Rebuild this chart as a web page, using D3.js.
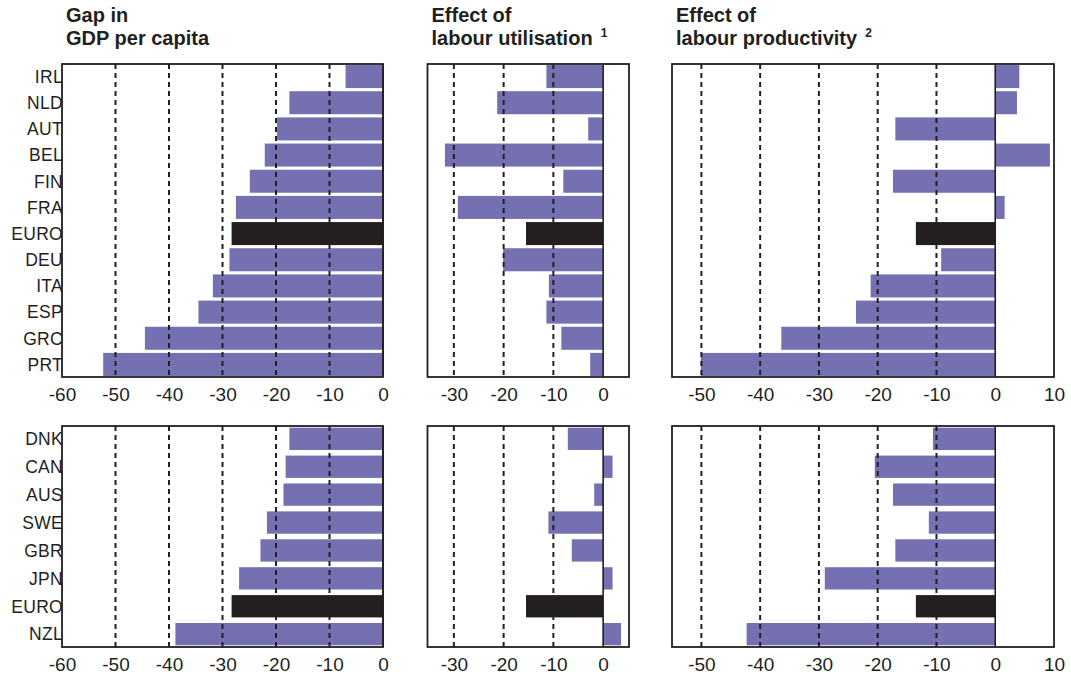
<!DOCTYPE html>
<html>
<head>
<meta charset="utf-8">
<script src="https://cdn.jsdelivr.net/npm/d3@7"></script>
<style>
  html, body { margin: 0; padding: 0; background: #fff; }
  svg { display: block; }
  text { font-family: "Liberation Sans", Arial, Helvetica, sans-serif; fill: #231f20; }
</style>
</head>
<body>
<svg id="chart" width="1071" height="680"></svg>
<script>
// Country groups
const euroCountries = ["IRL", "NLD", "AUT", "BEL", "FIN", "FRA", "EURO", "DEU", "ITA", "ESP", "GRC", "PRT"];
const otherCountries = ["DNK", "CAN", "AUS", "SWE", "GBR", "JPN", "EURO", "NZL"];

// Gap in GDP per capita (per cent)
const gapEuro  = [-7.0, -17.5, -19.8, -22.1, -24.9, -27.5, -28.3, -28.7, -31.8, -34.5, -44.5, -52.3];
const gapOther = [-17.5, -18.2, -18.6, -21.7, -22.9, -26.9, -28.3, -38.8];

// Effect of labour utilisation
const utilEuro  = [-11.4, -21.3, -3.0, -31.8, -8.0, -29.2, -15.5, -20.1, -10.9, -11.4, -8.4, -2.6];
const utilOther = [-7.1, 1.9, -1.8, -11.0, -6.3, 1.9, -15.5, 3.6];

// Effect of labour productivity
const prodEuro  = [4.1, 3.7, -17.0, 9.3, -17.4, 1.6, -13.5, -9.2, -21.2, -23.7, -36.4, -50.1];
const prodOther = [-10.6, -20.5, -17.4, -11.3, -17.0, -29.0, -13.5, -42.3];

// Axis tick labels for each column
const gapTicks  = [-60, -50, -40, -30, -20, -10, 0];
const utilTicks = [-30, -20, -10, 0];
const prodTicks = [-50, -40, -30, -20, -10, 0, 10];

const BAR = "#7470b2";
const HIGHLIGHT = "#231f20";

const svg = d3.select("#chart");

// Column geometry
const columns = [
  { x0: 62,    x1: 383,  domain: [-60, 0],     ticks: gapTicks,  top: gapEuro,  bottom: gapOther,
    title: ["Gap in", "GDP per capita"], note: null, labels: true },
  { x0: 427.5, x1: 629,  domain: [-35.3, 5.2], ticks: utilTicks, top: utilEuro, bottom: utilOther,
    title: ["Effect of", "labour utilisation"], note: "1", labels: false },
  { x0: 672,   x1: 1054, domain: [-55, 10],    ticks: prodTicks, top: prodEuro, bottom: prodOther,
    title: ["Effect of", "labour productivity"], note: "2", labels: false }
];

// Row geometry
const rows = [
  { y0: 64,  y1: 377, cats: euroCountries,  key: "top",    padIn: 0.12, padOut: 0.04 },
  { y0: 426, y1: 647, cats: otherCountries, key: "bottom", padIn: 0.2,  padOut: 0.06 }
];

columns.forEach(col => {
  const x = d3.scaleLinear().domain(col.domain).range([col.x0, col.x1]);

  // Titles
  const t = svg.append("text")
    .attr("x", col.x0 + 4)
    .attr("font-weight", "bold")
    .attr("font-size", 20);
  t.append("tspan").attr("x", col.x0 + 4).attr("y", 22).text(col.title[0]);
  const l2 = t.append("tspan").attr("x", col.x0 + 4).attr("y", 45).text(col.title[1]);
  if (col.note) {
    const w = l2.node().getComputedTextLength();
    svg.append("text")
      .attr("x", col.x0 + 4 + w + 8)
      .attr("y", 37)
      .attr("font-size", 12)
      .attr("font-weight", "bold")
      .text(col.note);
  }

  rows.forEach(row => {
    const values = col[row.key];
    const y = d3.scaleBand()
      .domain(row.cats)
      .range([row.y0, row.y1])
      .paddingInner(row.padIn)
      .paddingOuter(row.padOut);

    const g = svg.append("g");

    // Bars
    g.selectAll("rect.bar")
      .data(row.cats.map((c, i) => ({ c, v: values[i] })))
      .join("rect")
      .attr("class", "bar")
      .attr("x", d => x(Math.min(0, d.v)))
      .attr("width", d => Math.abs(x(d.v) - x(0)))
      .attr("y", d => y(d.c))
      .attr("height", y.bandwidth())
      .attr("fill", d => d.c === "EURO" ? HIGHLIGHT : BAR);

    // Dashed gridlines, drawn over the bars
    const inner = col.ticks.filter(v => v !== 0 && x(v) > col.x0 + 2 && x(v) < col.x1 - 2);
    g.selectAll("line.grid")
      .data(inner)
      .join("line")
      .attr("x1", d => x(d)).attr("x2", d => x(d))
      .attr("y1", row.y0).attr("y2", row.y1)
      .attr("stroke", "#231f20")
      .attr("stroke-width", 2)
      .attr("stroke-dasharray", "5,4");

    // Solid zero line
    g.append("line")
      .attr("x1", x(0)).attr("x2", x(0))
      .attr("y1", row.y0).attr("y2", row.y1)
      .attr("stroke", "#231f20")
      .attr("stroke-width", 1.6);

    // Frame
    g.append("rect")
      .attr("x", col.x0).attr("y", row.y0)
      .attr("width", col.x1 - col.x0).attr("height", row.y1 - row.y0)
      .attr("fill", "none")
      .attr("stroke", "#231f20")
      .attr("stroke-width", 1.8);

    // Bottom axis labels (plain hyphen for the minus sign)
    const axis = d3.axisBottom(x).tickValues(col.ticks).tickSize(0).tickPadding(0)
      .tickFormat(d => String(d));
    const ax = svg.append("g")
      .attr("transform", `translate(0,${row.y1})`)
      .call(axis);
    ax.select(".domain").remove();
    ax.selectAll("text")
      .attr("dy", null)
      .attr("y", 24)
      .attr("font-size", 19)
      .attr("font-family", "'Liberation Sans', Arial, Helvetica, sans-serif")
      .attr("fill", "#231f20");

    // Country labels
    if (col.labels) {
      svg.append("g")
        .selectAll("text")
        .data(row.cats)
        .join("text")
        .attr("x", col.x0 + 1)
        .attr("y", d => y(d) + y.bandwidth() / 2)
        .attr("dy", "0.36em")
        .attr("text-anchor", "end")
        .attr("font-size", 17.5)
        .attr("letter-spacing", 0.3)
        .text(d => d);
    }
  });
});
</script>
</body>
</html>
